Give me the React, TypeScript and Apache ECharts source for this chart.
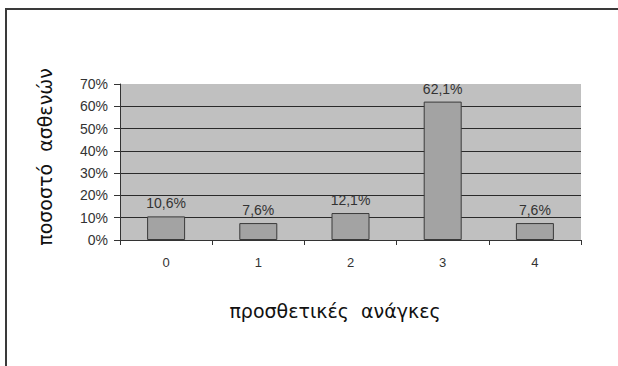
import React, { useEffect, useRef } from "react";
import * as echarts from "echarts";

const categories = ["0", "1", "2", "3", "4"];
const percentages = [10.6, 7.6, 12.1, 62.1, 7.6];
const yTicks = [0, 10, 20, 30, 40, 50, 60, 70];
const xTitle = "προσθετικές  ανάγκες";
const yTitle = "ποσοστό  ασθενών";

const fmt = (v: number) => v.toFixed(1).replace(".", ",") + "%";

export default function App() {
  const ref = useRef<HTMLDivElement>(null);

  useEffect(() => {
    if (!ref.current) return;
    const chart = echarts.init(ref.current, null, { renderer: "svg" });
    const labelFont = "'Liberation Sans', Arial, sans-serif";
    const titleFont = "'DejaVu Sans', sans-serif";
    // dark split lines everywhere except the top of the plot area
    const splitColors = yTicks.map((_, i) => (i === yTicks.length - 1 ? "rgba(0,0,0,0)" : "#2a2a2a"));

    chart.setOption({
      animation: false,
      backgroundColor: "#ffffff",
      graphic: [
        {
          type: "rect",
          shape: { x: 6, y: 9, width: 800, height: 600 },
          style: { fill: "none", stroke: "#3a3a3a", lineWidth: 2 },
          z: 10,
        },
        {
          type: "text",
          x: 335,
          y: 311,
          style: {
            text: xTitle,
            fontFamily: titleFont,
            fontSize: 19,
            fill: "#111",
            align: "center",
            verticalAlign: "middle",
          },
        },
        {
          type: "text",
          x: 45,
          y: 157,
          rotation: Math.PI / 2,
          style: {
            text: yTitle,
            fontFamily: titleFont,
            fontSize: 19,
            fill: "#111",
            align: "center",
            verticalAlign: "middle",
          },
        },
      ],
      grid: {
        left: 120,
        top: 84,
        width: 461,
        height: 156,
        show: true,
        backgroundColor: "#c0c0c0",
        borderWidth: 0,
      },
      xAxis: {
        type: "category",
        data: categories,
        boundaryGap: true,
        axisLine: { lineStyle: { color: "#333", width: 1 } },
        axisTick: { show: true, alignWithLabel: false, length: 5, lineStyle: { color: "#333" } },
        axisLabel: { margin: 16, fontFamily: labelFont, fontSize: 13, color: "#333" },
        splitLine: { show: false },
      },
      yAxis: {
        type: "value",
        min: 0,
        max: 70,
        interval: 10,
        axisLine: { show: true, lineStyle: { color: "#333", width: 1 } },
        axisTick: { show: true, length: 6, lineStyle: { color: "#333" } },
        axisLabel: {
          margin: 12,
          fontFamily: labelFont,
          fontSize: 14,
          color: "#333",
          formatter: "{value}%",
        },
        splitLine: { show: true, lineStyle: { color: splitColors, width: 1 } },
      },
      series: [
        {
          type: "bar",
          data: percentages,
          barWidth: 38,
          itemStyle: { color: "#a3a3a3", borderColor: "#3a3a3a", borderWidth: 1 },
          label: {
            show: true,
            position: "top",
            distance: 6,
            fontFamily: labelFont,
            fontSize: 14,
            color: "#333",
            formatter: (p: any) => fmt(p.value),
          },
        },
      ],
    });
    return () => chart.dispose();
  }, []);

  return (
    <div
      ref={ref}
      style={{ position: "fixed", left: 0, top: 0, width: 618, height: 366 }}
    />
  );
}
